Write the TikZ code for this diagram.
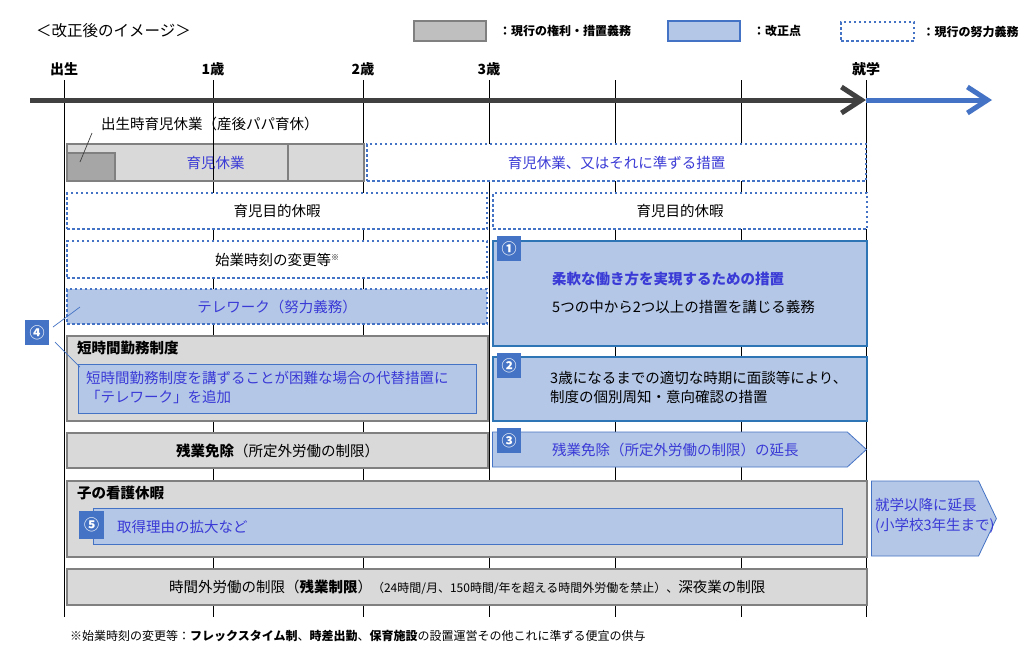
\documentclass[tikz,border=0pt]{standalone}
\usepackage{fontspec}
\setmainfont{Noto Sans CJK JP}
\usetikzlibrary{positioning,shapes.symbols,arrows.meta}

\definecolor{boxgray}{HTML}{D9D9D9}
\definecolor{papagray}{HTML}{A6A6A6}
\definecolor{edgegray}{HTML}{808080}
\definecolor{keygray}{HTML}{BFBFBF}
\definecolor{paleblue}{HTML}{B4C7E7}
\definecolor{accent}{HTML}{4472C4}
\definecolor{deepblue}{HTML}{2E75B6}
\definecolor{inkblue}{HTML}{3A3AD6}
\definecolor{axisgray}{HTML}{404040}

\tikzset{
  graybox/.style={draw=edgegray, fill=boxgray, line width=2.4pt, anchor=north west, inner sep=0pt},
  bluebox/.style={draw=accent, fill=paleblue, line width=1pt, anchor=north west, inner sep=0pt},
  strongbox/.style={draw=deepblue, fill=paleblue, line width=2pt, anchor=north west, inner sep=0pt},
  dotbox/.style={draw=accent, fill=white, line width=2.4pt, dash pattern=on 2.4pt off 2.6pt, anchor=north west, inner sep=0pt},
  badge/.style={fill=accent, text=white, anchor=north west, minimum width=24pt, minimum height=25pt, inner sep=0pt, font=\bfseries\fontsize{15}{15}\selectfont},
  body/.style={inner sep=0pt, font=\fontsize{14.5}{19}\selectfont},
  bodybold/.style={inner sep=0pt, font=\bfseries\fontsize{14.5}{19}\selectfont},
  bluelbl/.style={body, text=inkblue},
  agelbl/.style={inner sep=0pt, font=\bfseries\fontsize{14}{14}\selectfont},
  keytxt/.style={inner sep=0pt, font=\bfseries\fontsize{12}{12}\selectfont},
  timeline/.style={line width=5pt, -{Straight Barb[length=20pt,width=26pt]}},
  leader/.style={line width=0.7pt},
}

\begin{document}
\begin{tikzpicture}[x=1pt, y=-1pt]
  \useasboundingbox (0,0) rectangle (1027,649);
  \fill[white] (0,0) rectangle (1027,649);

  % title and legend
  \node[anchor=west, inner sep=0pt, font=\fontsize{15.5}{16}\selectfont] (title) at (36,31) {＜改正後のイメージ＞};
  \node[draw=edgegray, fill=keygray, line width=2pt, anchor=north west, minimum width=72pt, minimum height=20pt] (keyGray) at (413,20) {};
  \node[keytxt, right=12pt of keyGray] (keyGrayTxt) {：現行の権利・措置義務};
  \node[draw=accent, fill=paleblue, line width=2pt, anchor=north west, minimum width=72pt, minimum height=20pt] (keyBlue) at (667,20) {};
  \node[keytxt, right=12pt of keyBlue] (keyBlueTxt) {：改正点};
  \node[dotbox, minimum width=73pt, minimum height=19pt] (keyDot) at (840,21) {};
  \node[keytxt, right=7pt of keyDot] (keyDotTxt) {：現行の努力義務};

  % age axis
  \foreach \x in {64,213,363,489,615,741,866}
    \draw[line width=0.8pt] (\x,80) -- (\x,617);
  \coordinate (start) at (30,100);
  \coordinate (school) at (866,100);
  \coordinate (finish) at (992,100);
  \draw[timeline, axisgray] (start) -- (school);
  \draw[timeline, accent] (school) -- (finish);
  \foreach \x/\t in {64/出生, 213/1歳, 363/2歳, 489/3歳, 866/就学}
    \node[agelbl] (age\x) at (\x,69) {\t};

  % childcare leave
  \node[graybox, minimum width=297pt, minimum height=37pt, text=inkblue, font=\fontsize{14.5}{19}\selectfont] (leave) at (66,143) {育児休業};
  \node[graybox, fill=papagray, line width=2pt, minimum width=48pt, minimum height=28pt] (papa) at (66,152) {};
  \draw[edgegray, line width=2pt] (288,143) -- (288,180);
  \draw[line width=0.8pt] (213,143) -- (213,180);
  \node[body, anchor=west] (papalbl) at (101,124) {出生時育児休業（産後パパ育休）};
  \coordinate (papafrom) at (92,133);
  \coordinate (papato) at (80,162);
  \draw[leader, black!75] (papafrom) -- (papato);
  \node[dotbox, bluelbl, minimum width=499pt, minimum height=37pt] (leaveplus) at (366,143) {育児休業、又はそれに準ずる措置};

  % effort duties
  \node[dotbox, body, minimum width=420pt, minimum height=36pt] (purposeA) at (66,192) {育児目的休暇};
  \node[dotbox, body, minimum width=374pt, minimum height=36pt] (purposeB) at (492,192) {育児目的休暇};
  \node[dotbox, body, minimum width=420pt, minimum height=37pt] (shift) at (66,240) {始業時刻の変更等\raisebox{5pt}{\fontsize{8}{8}\selectfont ※}};
  \node[dotbox, bluelbl, fill=paleblue, minimum width=420pt, minimum height=35pt] (telework) at (66,288) {テレワーク（努力義務）};

  % short hours
  \node[graybox, minimum width=421pt, minimum height=85pt] (shorthours) at (66,335) {};
  \node[bodybold, anchor=west] (shorthead) at (77,348) {短時間勤務制度};
  \node[bluebox, minimum width=398pt, minimum height=49pt] (substitute) at (78,364) {};
  \node[bluelbl, anchor=west, align=left] (subtxt) at (86,387.5) {短時間勤務制度を講ずることが困難な場合の代替措置に\\「テレワーク」を追加};
  \node[badge] (b4) at (25,320) {④};
  \coordinate (tele4) at (80,307);
  \coordinate (sub4) at (80,367);
  \coordinate (b4a) at (53,327);
  \coordinate (b4b) at (55,342);
  \draw[leader, accent] (b4a) -- (tele4);
  \draw[leader, accent] (b4b) -- (sub4);

  % overtime exemption
  \node[graybox, body, minimum width=421pt, minimum height=35pt] (exempt) at (66,432) {{\bfseries 残業免除}（所定外労働の制限）};

  % new measures after 3
  \node[strongbox, minimum width=374pt, minimum height=105pt] (flex) at (492,240) {};
  \node[badge] (b1) at (497,236) {①};
  \node[bluelbl, bodybold, text=inkblue, anchor=west] (flexhead) at (552,279) {柔軟な働き方を実現するための措置};
  \node[body, anchor=west] (flexnote) at (552,307) {5つの中から2つ以上の措置を講じる義務};

  \node[strongbox, minimum width=374pt, minimum height=64pt] (interview) at (492,356) {};
  \node[badge] (b2) at (497,353) {②};
  \node[body, anchor=west, align=left] (intvtxt) at (550,387) {3歳になるまでの適切な時期に面談等により、\\制度の個別周知・意向確認の措置};

  \node[signal, signal to=east, signal pointer angle=85, draw=accent, fill=paleblue, line width=0.8pt, minimum width=374pt, minimum height=35pt, inner sep=0pt, anchor=west] (extend) at (492,449.5) {};
  \node[badge] (b3) at (497,428) {③};
  \node[bluelbl, anchor=west] (extendtxt) at (552,450) {残業免除（所定外労働の制限）の延長};

  % sick child leave
  \node[graybox, minimum width=800pt, minimum height=76pt] (nursing) at (66,480) {};
  \node[bodybold, anchor=west] (nursehead) at (77,493) {子の看護休暇};
  \node[bluebox, minimum width=749pt, minimum height=36pt] (reason) at (93,508) {};
  \node[badge, minimum width=25pt, minimum height=28pt] (b5) at (79,511) {⑤};
  \node[bluelbl, anchor=west] (reasontxt) at (117,527) {取得理由の拡大など};
  \node[signal, signal to=east, signal pointer angle=129, draw=accent, fill=paleblue, line width=0.8pt, minimum width=125pt, minimum height=75pt, inner sep=0pt, anchor=west] (beyond) at (871,518.5) {};
  \node[bluelbl, anchor=west, align=left, font=\fontsize{14.5}{20}\selectfont] (beyondtxt) at (875,516) {就学以降に延長\\(小学校3年生まで)};

  % overtime limit
  \node[graybox, body, minimum width=800pt, minimum height=36pt] (limit) at (66,568) {時間外労働の制限（\textbf{残業制限}）{\fontsize{12}{12}\selectfont（24時間/月、150時間/年を超える時間外労働を禁止）、}深夜業の制限};

  \node[anchor=west, inner sep=0pt, font=\fontsize{12}{12}\selectfont] (note) at (70,636) {※始業時刻の変更等：\textbf{フレックスタイム制}、\textbf{時差出勤}、\textbf{保育施設}の設置運営その他これに準ずる便宜の供与};
\end{tikzpicture}
\end{document}
